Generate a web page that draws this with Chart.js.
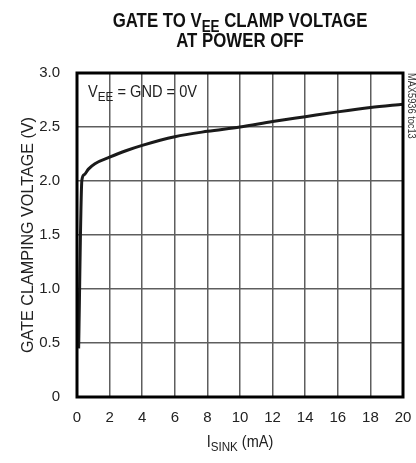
<!DOCTYPE html>
<html>
<head>
<meta charset="utf-8">
<script src="https://cdn.jsdelivr.net/npm/chart.js@4.4.1/dist/chart.umd.min.js"></script>
<style>
  html, body { margin: 0; padding: 0; background: #fff; }
  #wrap { width: 416px; height: 463px; }
</style>
</head>
<body>
<div id="wrap"><canvas id="chart" width="416" height="463"></canvas></div>
<script>
// values
const sinkCurrent = [0.1, 0.3, 0.45, 0.7, 1.1, 2, 3, 4, 6, 8, 10, 12, 14, 16, 18, 20];
const clampVoltage = [0.45, 2.01, 2.06, 2.11, 2.16, 2.22, 2.28, 2.33, 2.41, 2.46, 2.5, 2.55, 2.595, 2.64, 2.68, 2.71];
const xTicks = [0, 2, 4, 6, 8, 10, 12, 14, 16, 18, 20];
const yTicks = [0, 0.5, 1.0, 1.5, 2.0, 2.5, 3.0];

const FONT = "'Liberation Sans Narrow', 'Liberation Sans', Arial, sans-serif";

// text with subscript pieces: parts = [[text, isSub], ...], sx squeezes it sideways
function drawParts(ctx, parts, x, y, size, weight, align, sx) {
  sx = sx || 1;
  ctx.save();
  ctx.textBaseline = "alphabetic";
  ctx.textAlign = "left";
  let total = 0;
  parts.forEach((p) => {
    ctx.font = weight + " " + (p[1] ? size * 0.8 : size) + "px " + FONT;
    total += ctx.measureText(p[0]).width;
  });
  ctx.translate(x, y);
  ctx.scale(sx, 1);
  let cx = align === "center" ? -total / 2 : 0;
  parts.forEach((p) => {
    ctx.font = weight + " " + (p[1] ? size * 0.8 : size) + "px " + FONT;
    ctx.fillText(p[0], cx, p[1] ? size * 0.22 : 0);
    cx += ctx.measureText(p[0]).width;
  });
  ctx.restore();
}

const decorations = {
  id: "decorations",
  afterDatasetsDraw(chart) {
    const ctx = chart.ctx;
    const a = chart.chartArea;
    const mid = (a.left + a.right) / 2;
    ctx.save();
    // frame
    ctx.strokeStyle = "#000";
    ctx.lineWidth = 3;
    ctx.strokeRect(a.left, a.top, a.right - a.left, a.bottom - a.top);
    ctx.fillStyle = "#111";
    // title
    drawParts(ctx, [["GATE TO V", false], ["EE", true], [" CLAMP VOLTAGE", false]], mid, 27, 21, "bold", "center", 0.8);
    drawParts(ctx, [["AT POWER OFF", false]], mid, 47, 21, "bold", "center", 0.8);
    // annotation
    ctx.fillStyle = "#222";
    drawParts(ctx, [["V", false], ["EE", true], [" = GND = 0V", false]], a.left + 11, a.top + 24, 17, "normal", "left", 0.86);
    // x title
    drawParts(ctx, [["I", false], ["SINK", true], [" (mA)", false]], mid, 447, 16.5, "normal", "center", 0.88);
    // y title
    ctx.save();
    ctx.translate(33, (a.top + a.bottom) / 2);
    ctx.rotate(-Math.PI / 2);
    drawParts(ctx, [["GATE CLAMPING VOLTAGE (V)", false]], 0, 0, 17, "normal", "center", 0.95);
    ctx.restore();
    // side tag
    ctx.save();
    ctx.translate(408, a.top);
    ctx.rotate(Math.PI / 2);
    ctx.fillStyle = "#333";
    drawParts(ctx, [["MAX5936 toc13", false]], 0, 0, 10.5, "normal", "left", 0.88);
    ctx.restore();
    ctx.restore();
  },
};

new Chart(document.getElementById("chart"), {
  type: "line",
  data: {
    datasets: [
      {
        data: sinkCurrent.map((x, i) => ({ x: x, y: clampVoltage[i] })),
        borderColor: "#1a1a1a",
        borderWidth: 3,
        pointRadius: 0,
        cubicInterpolationMode: "monotone",
        fill: false,
      },
    ],
  },
  options: {
    responsive: false,
    animation: false,
    layout: { padding: { top: 73, right: 13, left: 0, bottom: 0 } },
    plugins: { legend: { display: false }, tooltip: { enabled: false }, title: { display: false } },
    scales: {
      x: {
        type: "linear",
        min: 0,
        max: 20,
        afterBuildTicks: (s) => { s.ticks = xTicks.map((v) => ({ value: v })); },
        afterFit: (s) => { s.height = 66; s.paddingLeft = 0; s.paddingRight = 0; },
        grid: { color: "#5e5e5e", lineWidth: 1.5, drawTicks: false },
        border: { display: false },
        ticks: { color: "#222", padding: 12, font: { family: FONT, size: 15 }, maxRotation: 0 },
      },
      y: {
        type: "linear",
        min: 0,
        max: 3,
        afterBuildTicks: (s) => { s.ticks = yTicks.map((v) => ({ value: v })); },
        afterFit: (s) => { s.width = 77; s.paddingTop = 0; s.paddingBottom = 0; },
        grid: { color: "#5e5e5e", lineWidth: 1.5, drawTicks: false },
        border: { display: false },
        ticks: {
          color: "#222",
          padding: 17,
          font: { family: FONT, size: 15 },
          callback: (v) => (v === 0 ? "0" : v.toFixed(1)),
        },
      },
    },
  },
  plugins: [decorations],
});
</script>
</body>
</html>
